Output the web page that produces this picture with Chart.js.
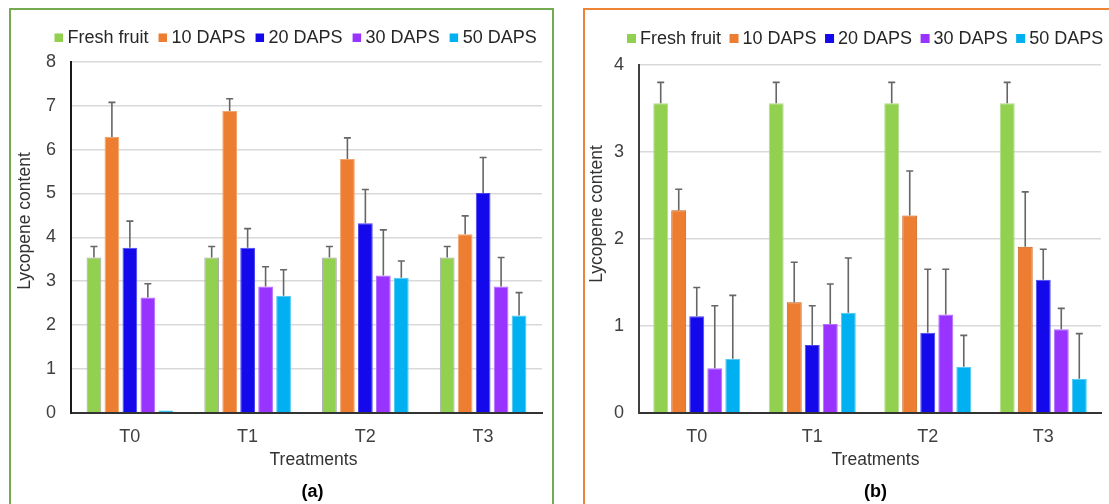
<!DOCTYPE html>
<html>
<head>
<meta charset="utf-8">
<script src="https://cdn.jsdelivr.net/npm/chart.js@4.4.1/dist/chart.umd.min.js"></script>
<style>
html,body{margin:0;padding:0;background:#fff;width:1109px;height:504px;overflow:hidden;position:relative;font-family:"Liberation Sans",Arial,sans-serif}
.frame{position:absolute;box-sizing:border-box}
#frameA{left:9px;top:8px;width:545px;height:530px;border:2px solid #74aa50}
#frameB{left:583px;top:8px;width:560px;height:530px;border:2px solid #ee8436}
.wrap{position:absolute;top:0;height:504px}
#wrapA{left:0;width:560px}
#wrapB{left:560px;width:549px}
</style>
</head>
<body>
<div class="frame" id="frameA"></div>
<div class="frame" id="frameB"></div>
<div class="wrap" id="wrapA"><canvas id="chartA"></canvas></div>
<div class="wrap" id="wrapB"><canvas id="chartB"></canvas></div>
<script>
// ---------- data ----------
const categories = ['T0', 'T1', 'T2', 'T3'];
const seriesLabels = ['Fresh fruit', '10 DAPS', '20 DAPS', '30 DAPS', '50 DAPS'];
const seriesColors = ['#92d050', '#ed7d31', '#1409ea', '#9933ff', '#00b0f0'];

// Panel (a)
const freshA = [3.54, 3.54, 3.54, 3.54];
const daps10A = [6.29, 6.88, 5.79, 4.07];
const daps20A = [3.76, 3.76, 4.32, 5.01];
const daps30A = [2.63, 2.88, 3.13, 2.88];
const daps50A = [0.05, 2.67, 3.08, 2.22];
const freshErrA = [0.25, 0.25, 0.25, 0.25];
const daps10ErrA = [0.79, 0.28, 0.48, 0.42];
const daps20ErrA = [0.61, 0.44, 0.77, 0.81];
const daps30ErrA = [0.31, 0.45, 1.04, 0.66];
const daps50ErrA = [0, 0.59, 0.38, 0.52];
const yTicksA = [0, 1, 2, 3, 4, 5, 6, 7, 8];

// Panel (b)
const freshB = [3.56, 3.56, 3.56, 3.56];
const daps10B = [2.33, 1.27, 2.27, 1.91];
const daps20B = [1.11, 0.78, 0.92, 1.53];
const daps30B = [0.51, 1.02, 1.13, 0.96];
const daps50B = [0.62, 1.15, 0.53, 0.39];
const freshErrB = [0.24, 0.24, 0.24, 0.24];
const daps10ErrB = [0.24, 0.46, 0.51, 0.63];
const daps20ErrB = [0.33, 0.45, 0.73, 0.35];
const daps30ErrB = [0.72, 0.46, 0.52, 0.24];
const daps50ErrB = [0.73, 0.63, 0.36, 0.52];
const yTicksB = [0, 1, 2, 3, 4];

const yTitle = 'Lycopene content';
const xTitle = 'Treatments';

// ---------- plugins ----------
const FONT = "'Liberation Sans', Arial, sans-serif";
Chart.defaults.font.family = FONT;

const errorBars = {
  id: 'errorBars',
  afterDatasetsDraw(chart, args, opts) {
    const ctx = chart.ctx, ys = chart.scales.y;
    ctx.save();
    ctx.strokeStyle = opts.color;
    ctx.lineWidth = opts.width;
    chart.data.datasets.forEach((ds, i) => {
      const meta = chart.getDatasetMeta(i);
      meta.data.forEach((bar, j) => {
        const e = ds.errors[j];
        if (!e) return;
        const x = bar.x;
        const y0 = ys.getPixelForValue(ds.data[j]);
        const y1 = ys.getPixelForValue(ds.data[j] + e);
        ctx.beginPath();
        ctx.moveTo(x, y0); ctx.lineTo(x, y1);
        ctx.moveTo(x - opts.cap, y1); ctx.lineTo(x + opts.cap, y1);
        ctx.stroke();
      });
    });
    ctx.restore();
  }
};

const customLegend = {
  id: 'customLegend',
  afterDraw(chart, args, opts) {
    const ctx = chart.ctx;
    ctx.save();
    ctx.font = opts.size + 'px ' + FONT;
    ctx.textBaseline = 'alphabetic';
    ctx.textAlign = 'left';
    let x = opts.x;
    chart.data.datasets.forEach(ds => {
      ctx.fillStyle = ds.backgroundColor;
      ctx.fillRect(x, opts.boxTop, opts.box, opts.box);
      x += opts.box + opts.boxGap;
      ctx.fillStyle = opts.color;
      ctx.fillText(ds.label, x, opts.baseline);
      x += ctx.measureText(ds.label).width + opts.itemGap;
    });
    ctx.restore();
  }
};

const panelTexts = {
  id: 'panelTexts',
  afterDraw(chart, args, opts) {
    const ctx = chart.ctx;
    ctx.save();
    ctx.fillStyle = opts.color;
    ctx.textAlign = 'center';
    ctx.textBaseline = 'alphabetic';
    // y title
    ctx.save();
    ctx.font = opts.ySize + 'px ' + FONT;
    ctx.translate(opts.yX, opts.yY);
    ctx.rotate(-Math.PI / 2);
    ctx.fillText(yTitle, 0, 0);
    ctx.restore();
    // x title
    ctx.font = opts.xSize + 'px ' + FONT;
    ctx.fillText(xTitle, opts.xX, opts.xY);
    // panel label
    ctx.font = 'bold ' + opts.pSize + 'px ' + FONT;
    ctx.fillStyle = '#000';
    ctx.fillText(opts.label, opts.pX, opts.pY);
    ctx.restore();
  }
};

function makeDatasets(values, errors, borders) {
  return values.map((v, i) => ({
    label: seriesLabels[i],
    data: v,
    errors: errors[i],
    backgroundColor: seriesColors[i],
    borderColor: borders[i],
    borderWidth: 1
  }));
}

function makeChart(id, cfg) {
  return new Chart(document.getElementById(id), {
    type: 'bar',
    data: {
      labels: categories,
      datasets: makeDatasets(cfg.values, cfg.errors, cfg.borders)
    },
    options: {
      responsive: true,
      maintainAspectRatio: false,
      animation: false,
      devicePixelRatio: 1,
      categoryPercentage: cfg.catPct,
      barPercentage: cfg.barPct,
      layout: { padding: { left: 0, top: cfg.top, right: cfg.right, bottom: cfg.bottom } },
      plugins: {
        legend: { display: false },
        tooltip: { enabled: false },
        errorBars: { color: '#666666', width: 1.6, cap: 3.5 },
        customLegend: cfg.legend,
        panelTexts: cfg.texts
      },
      scales: {
        x: {
          grid: { display: false, drawTicks: false },
          border: { display: true, color: '#333333', width: 2 },
          ticks: { color: '#404040', font: { size: 18 }, padding: 13.5 },
          afterFit(s) { s.height = 40; }
        },
        y: {
          min: 0,
          max: cfg.yTicks[cfg.yTicks.length - 1],
          afterBuildTicks(s) { s.ticks = cfg.yTicks.map(v => ({ value: v })); },
          grid: { color: '#d9d9d9', lineWidth: 1.5, drawTicks: false },
          border: { display: true, color: cfg.yAxisColor, width: 2 },
          ticks: { color: '#404040', font: { size: 18 }, padding: 15 },
          afterFit(s) { s.width = cfg.yWidth; }
        }
      }
    },
    plugins: [errorBars, customLegend, panelTexts]
  });
}

makeChart('chartA', {
  values: [freshA, daps10A, daps20A, daps30A, daps50A],
  errors: [freshErrA, daps10ErrA, daps20ErrA, daps30ErrA, daps50ErrA],
  borders: ['#a6a6a6', '#f2a46e', '#4a44f0', '#b36bff', '#49c6f4'],
  yTicks: yTicksA,
  catPct: 0.763, barPct: 0.82,
  top: 62, right: 18, bottom: 51.3, yWidth: 71,
  yAxisColor: '#1a1a1a',
  legend: { x: 54.5, boxTop: 33.5, box: 8.5, boxGap: 4.5, itemGap: 10, baseline: 42.5, size: 18, color: '#262626' },
  texts: { color: '#333', ySize: 17.5, yX: 29.5, yY: 221, xSize: 17.5, xX: 313.5, xY: 465, pSize: 18, label: '(a)', pX: 312.5, pY: 497 }
});

makeChart('chartB', {
  values: [freshB, daps10B, daps20B, daps30B, daps50B],
  errors: [freshErrB, daps10ErrB, daps20ErrB, daps30ErrB, daps50ErrB],
  borders: ['#b5dc8c', '#c55a11', '#4a44f0', '#b36bff', '#49c6f4'],
  yTicks: yTicksB,
  catPct: 0.78, barPct: 0.83,
  top: 65, right: 8, bottom: 51.3, yWidth: 79,
  yAxisColor: '#404040',
  legend: { x: 67, boxTop: 34, box: 9, boxGap: 4, itemGap: 8.5, baseline: 43.5, size: 18, color: '#262626' },
  texts: { color: '#333', ySize: 17.5, yX: 42, yY: 214, xSize: 17.5, xX: 315.5, xY: 465, pSize: 18, label: '(b)', pX: 315.5, pY: 497 }
});
</script>
</body>
</html>
